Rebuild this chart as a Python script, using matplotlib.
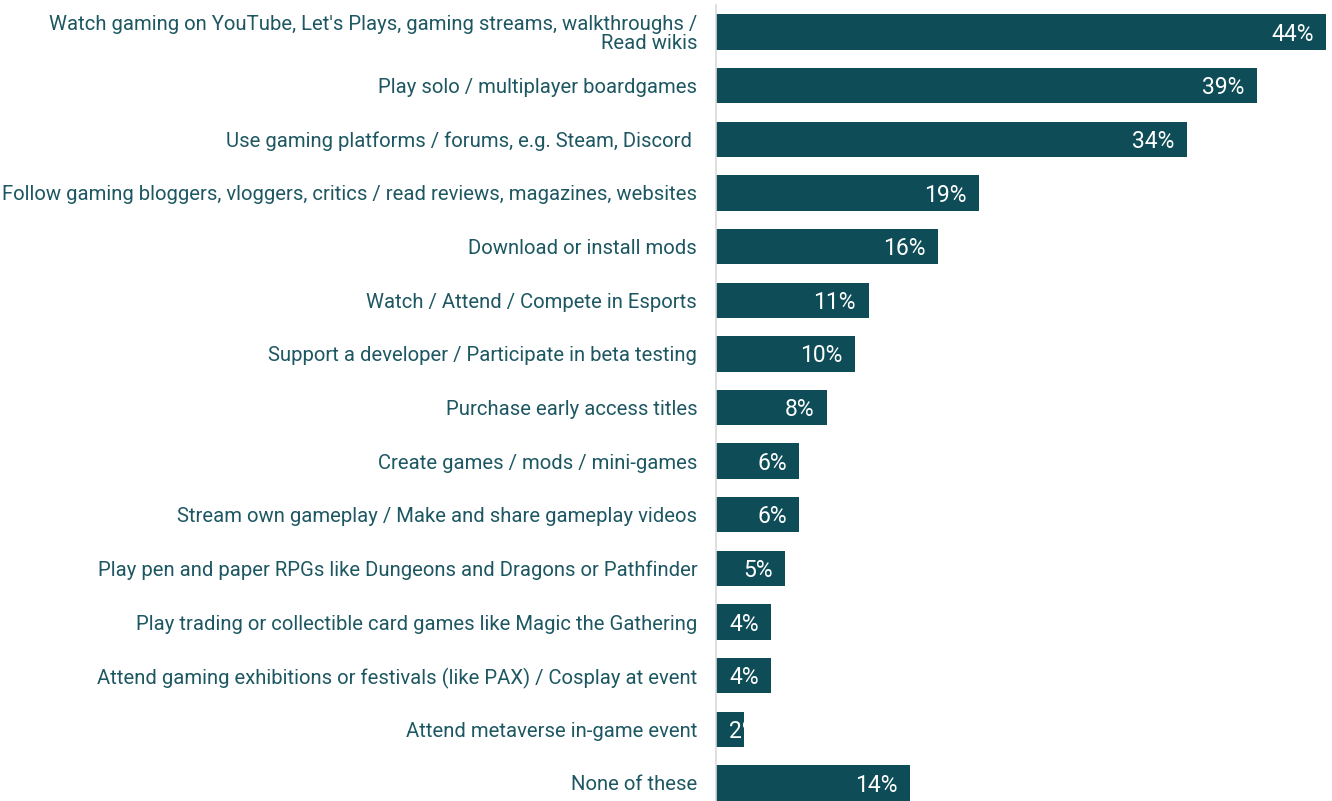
import matplotlib
matplotlib.use("Agg")
import matplotlib.pyplot as plt

categories = [
    "Watch gaming on YouTube, Let's Plays, gaming streams, walkthroughs /\nRead wikis",
    "Play solo / multiplayer boardgames",
    "Use gaming platforms / forums, e.g. Steam, Discord ",
    "Follow gaming bloggers, vloggers, critics / read reviews, magazines, websites",
    "Download or install mods",
    "Watch / Attend / Compete in Esports",
    "Support a developer / Participate in beta testing",
    "Purchase early access titles",
    "Create games / mods / mini-games",
    "Stream own gameplay / Make and share gameplay videos",
    "Play pen and paper RPGs like Dungeons and Dragons or Pathfinder",
    "Play trading or collectible card games like Magic the Gathering",
    "Attend gaming exhibitions or festivals (like PAX) / Cosplay at event",
    "Attend metaverse in-game event",
    "None of these",
]
values = [44, 39, 34, 19, 16, 11, 10, 8, 6, 6, 5, 4, 4, 2, 14]

bar_color = "#0e4d57"
label_color = "#1d5762"

plt.rcParams["font.family"] = ["Roboto", "DejaVu Sans"]

fig = plt.figure(figsize=(13.32, 8.01), dpi=100)
ax = fig.add_axes([716 / 1332, -0.011, (1326 - 716) / 1332, 1.0045])

y = list(range(len(categories)))
bars = ax.barh(y, values, height=0.66, color=bar_color, zorder=2)
ax.set_ylim(len(categories) - 0.5, -0.5)
ax.set_xlim(0, max(values))

ax.set_yticks(y)
ax.set_yticklabels(categories, fontsize=14.6, color=label_color, linespacing=1.0)
ax.tick_params(axis="y", length=0, pad=13.5)
ax.set_xticks([])

for side in ["top", "right", "bottom"]:
    ax.spines[side].set_visible(False)
ax.spines["left"].set_color("#d9d9d9")
ax.spines["left"].set_linewidth(1.2)

# value labels inside the bar end, clipped to the bar
for rect, v in zip(bars, values):
    yc = rect.get_y() + rect.get_height() / 2
    if v >= 3:
        t = ax.annotate(f"{v}%", xy=(v, yc), xytext=(-9, -1.5), textcoords="offset points",
                        ha="right", va="center", color="white", fontsize=16.5)
    else:
        t = ax.annotate(f"{v}%", xy=(0, yc), xytext=(9, -1.5), textcoords="offset points",
                        ha="left", va="center", color="white", fontsize=16.5)
    t.set_clip_path(rect)

fig.savefig("out.png", dpi=100)
